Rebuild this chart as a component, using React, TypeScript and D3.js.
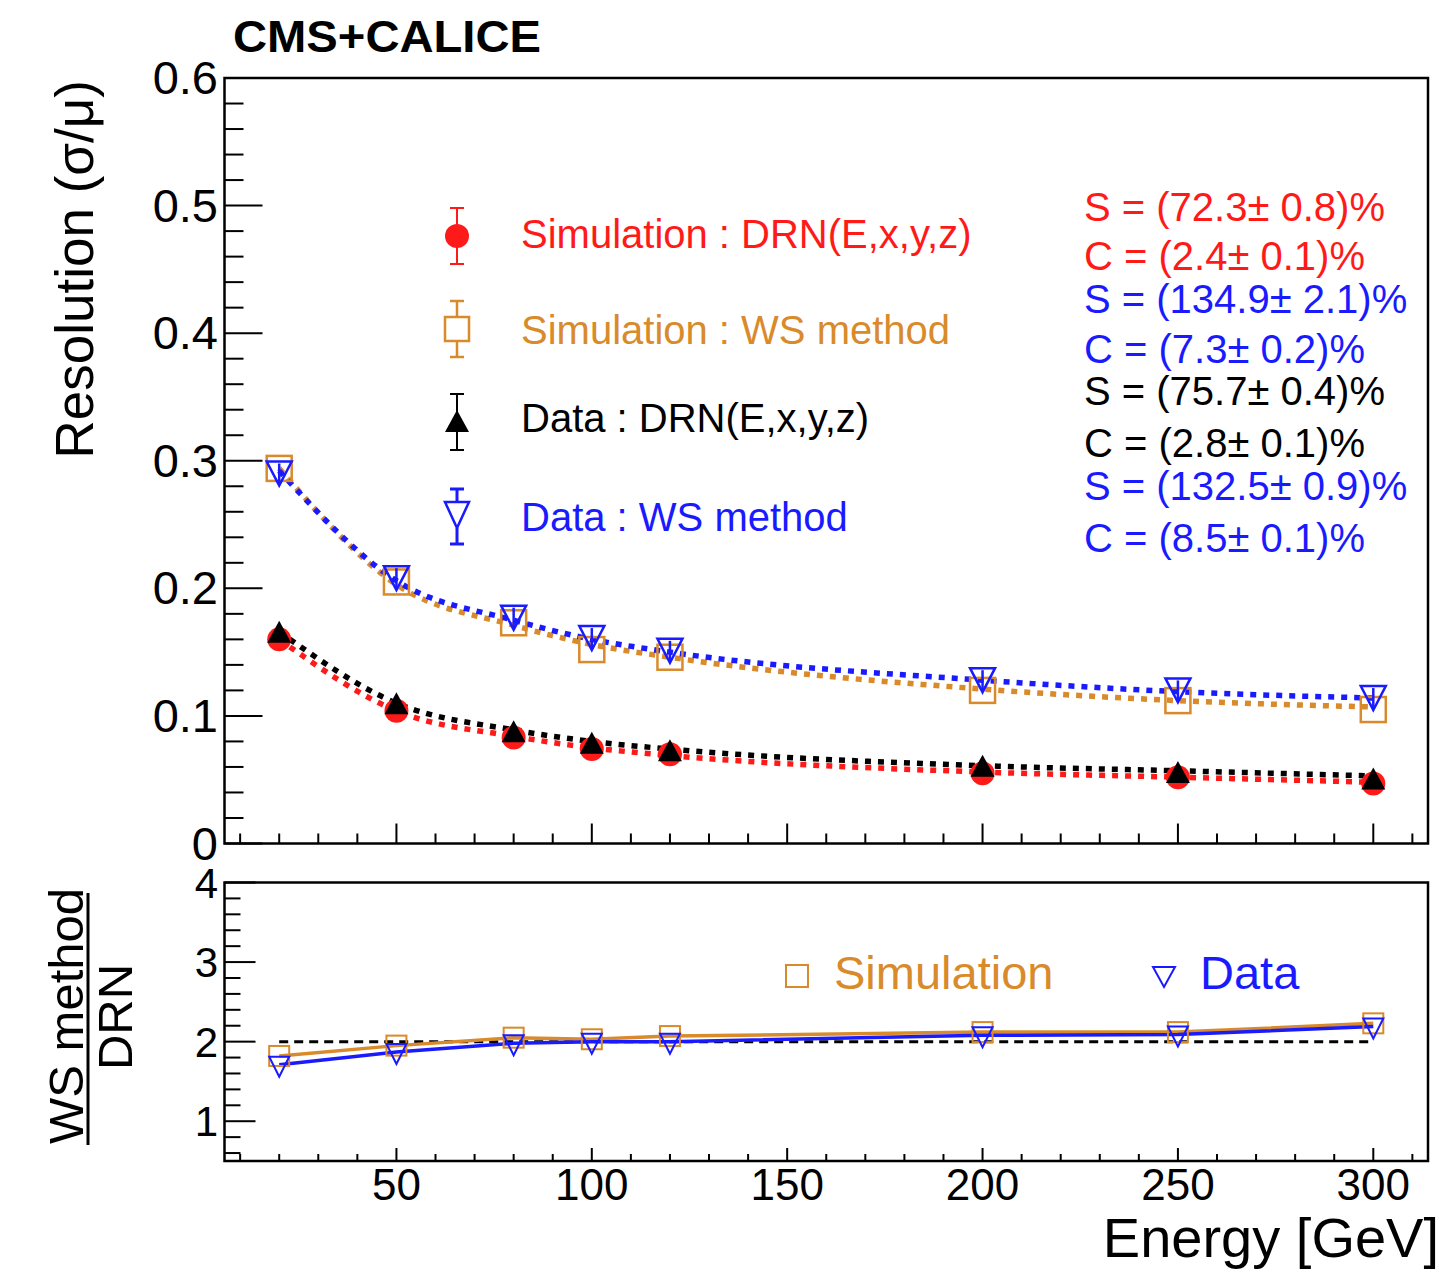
import React from 'react';
import * as d3 from 'd3';

// ---------------- data ----------------
const energies = [20, 50, 80, 100, 120, 200, 250, 300];
const simDRN = [0.160, 0.104, 0.083, 0.074, 0.070, 0.055, 0.052, 0.047];
const dataDRN = [0.166, 0.110, 0.088, 0.079, 0.073, 0.061, 0.056, 0.051];
const simWS = [0.294, 0.205, 0.173, 0.152, 0.146, 0.120, 0.112, 0.105];
const dataWS = [0.290, 0.208, 0.177, 0.161, 0.151, 0.128, 0.120, 0.114];

const fitSimDRN = [0.160, 0.104, 0.084, 0.075, 0.069, 0.056, 0.052, 0.048];
const fitDataDRN = [0.166, 0.110, 0.089, 0.080, 0.074, 0.061, 0.057, 0.053];
const fitSimWS = [0.294, 0.203, 0.171, 0.156, 0.146, 0.121, 0.112, 0.107];
const fitDataWS = [0.292, 0.206, 0.175, 0.160, 0.150, 0.128, 0.119, 0.114];

const ratioSim = [1.82, 1.95, 2.05, 2.03, 2.07, 2.12, 2.12, 2.23];
const ratioData = [1.71, 1.87, 1.98, 2.0, 2.0, 2.08, 2.09, 2.19];
const ratioRef = 2;

const topYTicks = [0, 0.1, 0.2, 0.3, 0.4, 0.5, 0.6];
const topYLabels = ['0', '0.1', '0.2', '0.3', '0.4', '0.5', '0.6'];
const botYTicks = [1, 2, 3, 4];
const botYLabels = ['1', '2', '3', '4'];
const xTicks = [50, 100, 150, 200, 250, 300];
const xLabels = ['50', '100', '150', '200', '250', '300'];

const legendLabels = [
  'Simulation : DRN(E,x,y,z)',
  'Simulation : WS method',
  'Data : DRN(E,x,y,z)',
  'Data : WS method',
];
const legendSeries = ['simDRN', 'simWS', 'dataDRN', 'dataWS'];
const fitParamLabels = [
  'S = (72.3\u00B1 0.8)%',
  'C = (2.4\u00B1 0.1)%',
  'S = (134.9\u00B1 2.1)%',
  'C = (7.3\u00B1 0.2)%',
  'S = (75.7\u00B1 0.4)%',
  'C = (2.8\u00B1 0.1)%',
  'S = (132.5\u00B1 0.9)%',
  'C = (8.5\u00B1 0.1)%',
];
const fitParamColorKeys = ['red', 'red', 'blue', 'blue', 'black', 'black', 'blue', 'blue'];

// ---------------- style ----------------
const FONT = "'Liberation Sans', Arial, Helvetica, sans-serif";
const RED = '#ff1a1a';
const ORANGE = '#d98a2b';
const BLACK = '#000000';
const BLUE = '#1a1aff';
const COLORS: Record<string, string> = {
  simDRN: RED,
  simWS: ORANGE,
  dataDRN: BLACK,
  dataWS: BLUE,
  red: RED,
  blue: BLUE,
  black: BLACK,
};

const W = 1450;
const H = 1272;
const L = 224.5;
const R = 1428;
const TOP_T = 78;
const TOP_B = 843.5;
const BOT_T = 882.5;
const BOT_B = 1161;

const x = d3.scaleLinear().domain([6, 314]).range([L, R]);
const yTop = d3.scaleLinear().domain([0, 0.6]).range([TOP_B, TOP_T]);
const yBot = d3.scaleLinear().domain([0.5, 4]).range([BOT_B, BOT_T]);

const xMinor = d3.range(10, 311, 10).filter((v) => v % 50 !== 0);
const topYMinor = d3.range(0, 30).map((i) => i * 0.02).filter((_, i) => i % 5 !== 0);
const botYMinor = d3.range(3, 20).map((i) => i * 0.2).filter((_, i) => (i + 3) % 5 !== 0);

// marker path helpers
const triUp = (cx: number, cy: number, w: number, h: number) =>
  `M${cx - w / 2},${cy + h / 2}L${cx + w / 2},${cy + h / 2}L${cx},${cy - h / 2}Z`;
const triDown = (cx: number, cy: number, w: number, h: number) =>
  `M${cx - w / 2},${cy - h / 2}L${cx + w / 2},${cy - h / 2}L${cx},${cy + h / 2}Z`;

function Curve({ ys, color }: { ys: number[]; color: string }) {
  const line = d3
    .line<number>()
    .x((_, i) => x(energies[i]))
    .y((v) => yTop(v))
    .curve(d3.curveMonotoneX);
  return (
    <path
      d={line(ys) || ''}
      fill="none"
      stroke={color}
      strokeWidth={5.5}
      strokeDasharray="6 7"
    />
  );
}

function RatioLine({ ys, color }: { ys: number[]; color: string }) {
  const line = d3
    .line<number>()
    .x((_, i) => x(energies[i]))
    .y((v) => yBot(v));
  return <path d={line(ys) || ''} fill="none" stroke={color} strokeWidth={3.5} />;
}

function ErrBar({ cx, y1, y2, gapTop, gapBot, color, w = 2, cap = 14 }: any) {
  return (
    <g stroke={color} strokeWidth={w}>
      <line x1={cx - cap / 2} x2={cx + cap / 2} y1={y1} y2={y1} />
      <line x1={cx - cap / 2} x2={cx + cap / 2} y1={y2} y2={y2} />
      <line x1={cx} x2={cx} y1={y1} y2={gapTop} />
      <line x1={cx} x2={cx} y1={gapBot} y2={y2} />
    </g>
  );
}

export default function App() {
  const legendX = 457;
  const legendTextX = 521;
  const legendBaselines = [248, 344, 432, 531];
  const paramBaselines = [221, 270, 313, 363, 405, 457, 500, 552];

  return (
    <svg
      width={W}
      height={H}
      viewBox={`0 0 ${W} ${H}`}
      style={{ position: 'absolute', left: 0, top: 0, background: '#fff' }}
      fontFamily={FONT}
    >
      <rect x={0} y={0} width={W} height={H} fill="#fff" />

      {/* title */}
      <text x={233} y={52} fontSize={44} fontWeight="bold" textLength={308} lengthAdjust="spacingAndGlyphs">
        CMS+CALICE
      </text>

      {/* ---------- top panel ---------- */}
      <g>
        {/* fit curves */}
        <Curve ys={fitSimDRN} color={RED} />
        <Curve ys={fitDataDRN} color={BLACK} />
        <Curve ys={fitSimWS} color={ORANGE} />
        <Curve ys={fitDataWS} color={BLUE} />

        {/* markers */}
        {simDRN.map((v, i) => (
          <circle key={'r' + i} cx={x(energies[i])} cy={yTop(v)} r={12} fill={RED} />
        ))}
        {dataDRN.map((v, i) => (
          <path key={'k' + i} d={triUp(x(energies[i]), yTop(v), 24, 22)} fill={BLACK} />
        ))}
        {simWS.map((v, i) => (
          <rect
            key={'o' + i}
            x={x(energies[i]) - 12.5}
            y={yTop(v) - 12.5}
            width={25}
            height={25}
            fill="none"
            stroke={ORANGE}
            strokeWidth={2.5}
          />
        ))}
        {dataWS.map((v, i) => (
          <g key={'b' + i}>
            <path d={triDown(x(energies[i]), yTop(v), 25, 24)} fill="none" stroke={BLUE} strokeWidth={2.5} />
            <line
              x1={x(energies[i])}
              x2={x(energies[i])}
              y1={yTop(v) - 10}
              y2={yTop(v) + 10}
              stroke={BLUE}
              strokeWidth={2.5}
            />
          </g>
        ))}

        {/* frame */}
        <rect x={L} y={TOP_T} width={R - L} height={TOP_B - TOP_T} fill="none" stroke="#000" strokeWidth={2.5} />

        {/* y ticks */}
        {topYTicks.map((t, i) => (
          <g key={'yt' + i}>
            <line x1={L} x2={L + 38} y1={yTop(t)} y2={yTop(t)} stroke="#000" strokeWidth={2} />
            <text x={218} y={yTop(t) + 16} fontSize={47} textAnchor="end">
              {topYLabels[i]}
            </text>
          </g>
        ))}
        {topYMinor.map((t, i) => (
          <line key={'ym' + i} x1={L} x2={L + 19} y1={yTop(t)} y2={yTop(t)} stroke="#000" strokeWidth={2} />
        ))}
        {/* x ticks */}
        {xTicks.map((t, i) => (
          <line key={'xt' + i} x1={x(t)} x2={x(t)} y1={TOP_B} y2={TOP_B - 20} stroke="#000" strokeWidth={2} />
        ))}
        {xMinor.map((t, i) => (
          <line key={'xm' + i} x1={x(t)} x2={x(t)} y1={TOP_B} y2={TOP_B - 10} stroke="#000" strokeWidth={2} />
        ))}

        {/* y title */}
        <text transform={`translate(93,80) rotate(-90)`} fontSize={53} textAnchor="end">
          Resolution (σ/μ)
        </text>

        {/* legend */}
        <ErrBar cx={legendX} y1={208} y2={264} gapTop={236} gapBot={236} color={RED} />
        <circle cx={legendX} cy={236} r={12} fill={RED} />
        <ErrBar cx={legendX} y1={301} y2={357} gapTop={317} gapBot={341} color={ORANGE} w={2.5} />
        <rect x={legendX - 12} y={317} width={24} height={24} fill="none" stroke={ORANGE} strokeWidth={2.5} />
        <ErrBar cx={legendX} y1={394} y2={450} gapTop={422} gapBot={422} color={BLACK} />
        <path d={triUp(legendX, 421, 24, 22)} fill={BLACK} />
        <ErrBar cx={legendX} y1={489} y2={544} gapTop={503} gapBot={528} color={BLUE} w={3} />
        <path d={triDown(legendX, 515, 24, 26)} fill="none" stroke={BLUE} strokeWidth={2.5} />
        {legendLabels.map((s, i) => (
          <text key={'lg' + i} x={legendTextX} y={legendBaselines[i]} fontSize={40} fill={COLORS[legendSeries[i]]}>
            {s}
          </text>
        ))}

        {/* fit parameters */}
        {fitParamLabels.map((s, i) => (
          <text key={'fp' + i} x={1084} y={paramBaselines[i]} fontSize={40} fill={COLORS[fitParamColorKeys[i]]}>
            {s}
          </text>
        ))}
      </g>

      {/* ---------- bottom (ratio) panel ---------- */}
      <g>
        <line
          x1={x(energies[0])}
          x2={x(energies[energies.length - 1])}
          y1={yBot(ratioRef)}
          y2={yBot(ratioRef)}
          stroke="#000"
          strokeWidth={3}
          strokeDasharray="9 6"
        />
        <RatioLine ys={ratioSim} color={ORANGE} />
        <RatioLine ys={ratioData} color={BLUE} />
        {ratioSim.map((v, i) => (
          <rect
            key={'rs' + i}
            x={x(energies[i]) - 10}
            y={yBot(v) - 10}
            width={20}
            height={20}
            fill="none"
            stroke={ORANGE}
            strokeWidth={2}
          />
        ))}
        {ratioData.map((v, i) => (
          <path key={'rd' + i} d={triDown(x(energies[i]), yBot(v) + 2, 20, 20)} fill="none" stroke={BLUE} strokeWidth={2} />
        ))}

        <rect x={L} y={BOT_T} width={R - L} height={BOT_B - BOT_T} fill="none" stroke="#000" strokeWidth={2.5} />

        {botYTicks.map((t, i) => (
          <g key={'byt' + i}>
            <line x1={L} x2={L + 31} y1={yBot(t)} y2={yBot(t)} stroke="#000" strokeWidth={2} />
            <text x={218} y={yBot(t) + 15} fontSize={42} textAnchor="end">
              {botYLabels[i]}
            </text>
          </g>
        ))}
        {botYMinor.map((t, i) => (
          <line key={'bym' + i} x1={L} x2={L + 16} y1={yBot(t)} y2={yBot(t)} stroke="#000" strokeWidth={2} />
        ))}
        {xTicks.map((t, i) => (
          <g key={'bxt' + i}>
            <line x1={x(t)} x2={x(t)} y1={BOT_B} y2={BOT_B - 13} stroke="#000" strokeWidth={2} />
            <text x={x(t)} y={1200} fontSize={44} textAnchor="middle">
              {xLabels[i]}
            </text>
          </g>
        ))}
        {xMinor.map((t, i) => (
          <line key={'bxm' + i} x1={x(t)} x2={x(t)} y1={BOT_B} y2={BOT_B - 7} stroke="#000" strokeWidth={2} />
        ))}

        {/* ratio legend */}
        <rect x={786} y={965} width={22} height={22} fill="none" stroke={ORANGE} strokeWidth={2} />
        <text x={834} y={989} fontSize={47} fill={ORANGE}>
          Simulation
        </text>
        <path d={triDown(1164, 977, 22, 20)} fill="none" stroke={BLUE} strokeWidth={2} />
        <text x={1200} y={989} fontSize={47} fill={BLUE}>
          Data
        </text>

        {/* y title as fraction */}
        <text transform={`translate(83,1016) rotate(-90)`} fontSize={49} textAnchor="middle">
          WS method
        </text>
        <line x1={88} x2={88} y1={893} y2={1145} stroke="#000" strokeWidth={3} />
        <text transform={`translate(132,1017) rotate(-90)`} fontSize={49} textAnchor="middle">
          DRN
        </text>

        {/* x title */}
        <text x={1439} y={1257} fontSize={56} textAnchor="end">
          Energy [GeV]
        </text>
      </g>
    </svg>
  );
}
